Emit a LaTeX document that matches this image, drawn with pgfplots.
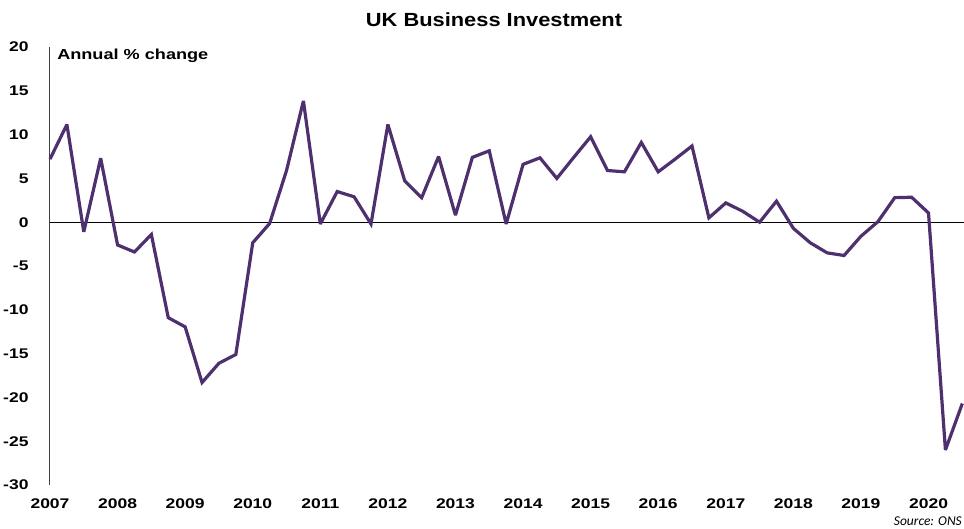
\documentclass[border=0pt]{standalone}
\usepackage{fontspec}
\setmainfont{Liberation Sans}
\newfontfamily\carlito{Carlito}
\usepackage{pgfplots}
\pgfplotsset{compat=1.18}
\definecolor{linepurple}{RGB}{78,48,110}
\begin{document}
\begin{tikzpicture}
\path[use as bounding box] (0,0) rectangle (964pt,528pt);
\begin{axis}[
  at={(50pt,43pt)}, anchor=south west,
  scale only axis, width=914pt, height=438pt,
  xmin=0, xmax=54.1, ymin=-30, ymax=20,
  axis y line*=left, axis x line*=bottom,
  y axis line style={draw=black!75, line width=1pt, -},
  x axis line style={draw=none},
  major tick length=0pt,
  ytick={-30,-25,...,20},
  xtick={0,4,...,52},
  xticklabels={2007,2008,2009,2010,2011,2012,2013,2014,2015,2016,2017,2018,2019,2020},
  /pgf/number format/assume math mode=true,
  ticklabel style={font=\fontsize{14}{15}\selectfont\bfseries, xscale=1.25, inner sep=0pt},
  yticklabel style={anchor=east, xshift=-17pt},
  xticklabel style={anchor=north, yshift=-14pt},
  clip=false,
]
\addplot[black, line width=1pt] coordinates {(0,0) (54.1,0)};
\addplot[linepurple, line width=3.2pt, line join=miter, miter limit=3] coordinates {
(0,7.2) (1,11.15) (2,-1.1) (3,7.3) (4,-2.6) (5,-3.4) (6,-1.4) (7,-10.9)
(8,-11.95) (9,-18.3) (10,-16.1) (11,-15.1) (12,-2.35) (13,-0.15) (14,5.9) (15,13.85)
(16,-0.2) (17,3.5) (18,2.9) (19,-0.2) (20,11.15) (21,4.7) (22,2.8) (23,7.5)
(24,0.8) (25,7.4) (26,8.15) (27,-0.2) (28,6.6) (29,7.35) (30,5.0) (31,7.4)
(32,9.75) (33,5.9) (34,5.75) (35,9.1) (36,5.75) (37,7.2) (38,8.7) (39,0.5)
(40,2.2) (41,1.25) (42,0.0) (43,2.4) (44,-0.7) (45,-2.35) (46,-3.5) (47,-3.8)
(48,-1.6) (49,0.05) (50,2.8) (51,2.85) (52,1.05) (53,-26.0) (54,-20.7)
};
\end{axis}
\node[anchor=center, xscale=1.15, inner sep=0pt] at (494pt,508pt) {\fontsize{19}{20}\selectfont\bfseries UK Business Investment};
\node[anchor=base west, xscale=1.25, inner sep=0pt] at (57pt,468pt) {\fontsize{14.5}{15}\selectfont\bfseries Annual \% change};
\node[anchor=base east, inner sep=0pt] at (962pt,3pt) {\carlito\itshape\fontsize{13.5}{14}\selectfont Source: ONS};
\end{tikzpicture}
\end{document}
